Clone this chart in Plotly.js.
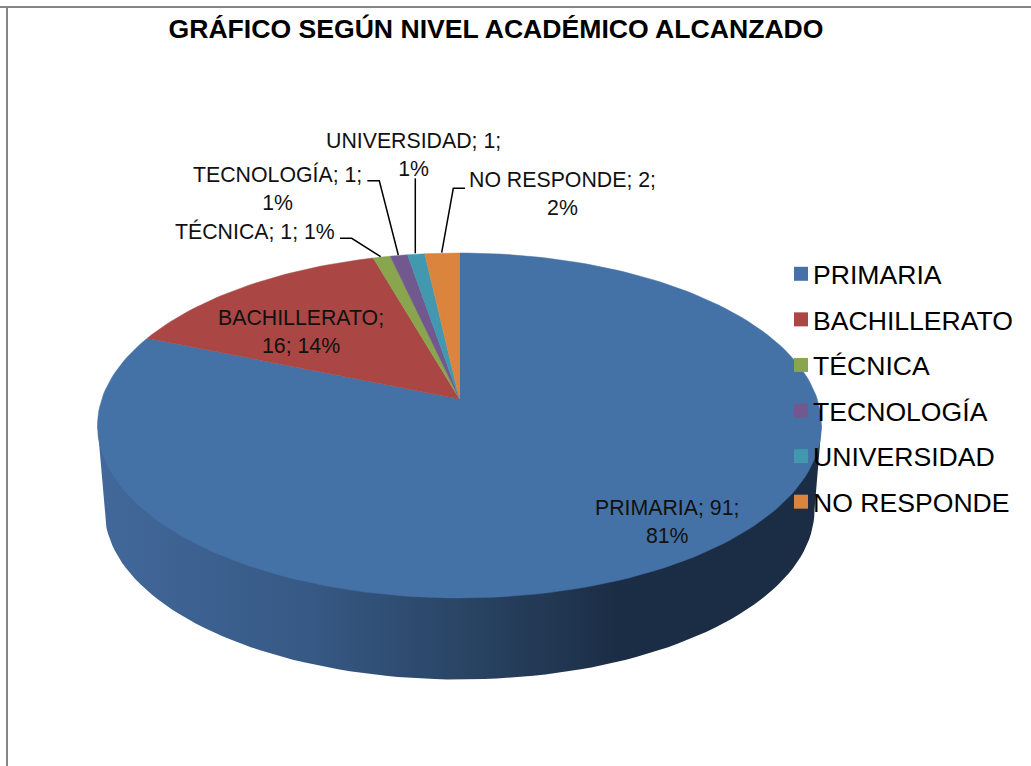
<!DOCTYPE html>
<html>
<head>
<meta charset="utf-8">
<script src="https://cdn.plot.ly/plotly-3.0.1.min.js"></script>
<style>html,body{margin:0;padding:0;background:#fff}#chart{width:1031px;height:766px}</style>
</head>
<body>
<div id="chart"></div>
<script>
var categories = ["PRIMARIA", "BACHILLERATO", "TÉCNICA", "TECNOLOGÍA", "UNIVERSIDAD", "NO RESPONDE"];
var counts = [91, 16, 1, 1, 1, 2];
var percents = [81, 14, 1, 1, 1, 2];
var sliceColors = ["#4472A6", "#AA4643", "#89A54E", "#71588F", "#4198AF", "#DB843D"];

// Perspective projection of the pie disc on the (hidden, pixel-sized) axes
var APEX_X = 459.5, APEX_Y = 399, PERSP = 0.1536, RX = 357.7, RY = 168.4;
function project(deg) {
  var a = deg * Math.PI / 180, u = Math.sin(a), v = Math.cos(a), d = 1 + PERSP * v;
  return [APEX_X + RX * u / d, APEX_Y - RY * v / d];
}

var traces = [];

// Extruded side wall
var wallX = [], wallY = [];
var BASE_CY = 510, BASE_RX = 355, BASE_RY = 169.5;
wallX.push(97.5); wallY.push(425.5);
for (var t = 180; t >= 0; t -= 2) {
  var r = t * Math.PI / 180;
  wallX.push(APEX_X + BASE_RX * Math.cos(r));
  wallY.push(BASE_CY + BASE_RY * Math.sin(r));
}
wallX.push(821.5); wallY.push(425.5);
traces.push({
  type: "scatter", mode: "lines", x: wallX, y: wallY, fill: "toself",
  line: {width: 0, color: "rgba(0,0,0,0)"}, showlegend: false, hoverinfo: "skip",
  fillgradient: {
    type: "horizontal", start: 97, stop: 822,
    colorscale: [[0, "#42699B"], [0.3, "#365884"], [0.5, "#2A4565"], [0.72, "#1B2D45"], [1, "#1B2D45"]]
  }
});

// Top face slices, one per category
var total = counts.reduce(function (s, c) { return s + c; }, 0);
var cumulative = 0;
counts.forEach(function (c, i) {
  var start = cumulative / total * 360, end = (cumulative + c) / total * 360;
  cumulative += c;
  var xs = [APEX_X], ys = [APEX_Y];
  var steps = Math.max(2, Math.ceil((end - start) / 1.5));
  for (var k = 0; k <= steps; k++) {
    var p = project(start + (end - start) * k / steps);
    xs.push(p[0]); ys.push(p[1]);
  }
  xs.push(APEX_X); ys.push(APEX_Y);
  traces.push({
    type: "scatter", mode: "lines", x: xs, y: ys, fill: "toself", fillcolor: sliceColors[i],
    line: {width: 0.5, color: sliceColors[i]}, name: categories[i], showlegend: false,
    text: categories[i] + ": " + c + " (" + percents[i] + "%)", hoverinfo: "text"
  });
});

// Legend entries
categories.forEach(function (name, i) {
  traces.push({
    type: "scatter", mode: "markers", x: [null], y: [null], name: name,
    legendgroup: "g" + i,
    marker: {symbol: "square", size: 14, color: sliceColors[i]}, hoverinfo: "skip"
  });
});

function label(i, sep1, sep2) {
  return categories[i] + ";" + sep1 + counts[i] + ";" + sep2 + percents[i] + "%";
}
function ann(text, x, y) {
  return {text: text, x: x, y: y, xref: "x", yref: "y", showarrow: false,
          xanchor: "center", yanchor: "middle", align: "center",
          font: {family: "Liberation Sans, Arial, sans-serif", size: 21.3, color: "#111"}};
}
var annotations = [
  ann(label(0, " ", "<br>"), 667, 522),
  ann(label(1, "<br>", " "), 301, 331.5),
  ann(label(2, " ", " "), 254.5, 231),
  ann(label(3, " ", "<br>"), 277.5, 188),
  ann(label(4, " ", "<br>"), 413, 154.5),
  ann(label(5, " ", "<br>"), 562, 194)
];

function leader(path) {
  return {type: "path", path: path, xref: "x", yref: "y", line: {color: "#000", width: 1.5}};
}
var layout = {
  width: 1031, height: 766, margin: {l: 0, r: 0, t: 0, b: 0},
  paper_bgcolor: "#fff", plot_bgcolor: "#fff",
  title: {
    text: "GRÁFICO SEGÚN NIVEL ACADÉMICO ALCANZADO", x: 496 / 1031, xref: "paper", xanchor: "center",
    y: 1 - 29 / 766, yref: "paper", yanchor: "middle",
    font: {family: "Liberation Sans, Arial, sans-serif", size: 26.6, weight: 700, color: "#000"}
  },
  xaxis: {range: [0, 1031], visible: false, fixedrange: true},
  yaxis: {range: [766, 0], visible: false, fixedrange: true},
  showlegend: true,
  legend: {
    x: 773 / 1031, xanchor: "left", y: 1 - 250 / 766, yanchor: "top",
    bgcolor: "rgba(0,0,0,0)", borderwidth: 0, tracegroupgap: 8, itemclick: false, itemdoubleclick: false,
    font: {family: "Liberation Sans, Arial, sans-serif", size: 26.6, color: "#000"}
  },
  annotations: annotations,
  shapes: [
    {type: "line", x0: 0, x1: 1031, y0: 7, y1: 7, xref: "x", yref: "y", line: {color: "#868686", width: 2}},
    {type: "line", x0: 7, x1: 7, y0: 6, y1: 766, xref: "x", yref: "y", line: {color: "#868686", width: 2}},
    leader("M340,238.3 L351.7,238.3 L380.7,256.7"),
    leader("M367.3,180.7 L379.3,180.7 L398.3,255"),
    leader("M415.3,178.3 L415.3,253.3"),
    leader("M465,188.3 L453.3,188.3 L441.7,252.7")
  ]
};

Plotly.newPlot("chart", traces, layout, {displayModeBar: false, responsive: false}).then(function () {
  document.querySelectorAll("#chart .legend g.legendpoints").forEach(function (g) {
    g.setAttribute("transform", "translate(8,0)");
  });
});
</script>
</body>
</html>
